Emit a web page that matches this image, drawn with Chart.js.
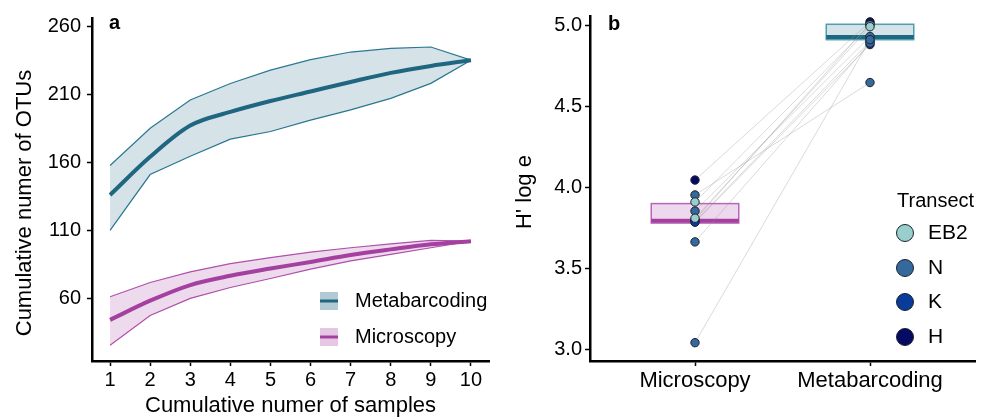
<!DOCTYPE html>
<html>
<head>
<meta charset="utf-8">
<script src="https://cdn.jsdelivr.net/npm/chart.js@4.4.0/dist/chart.umd.min.js"></script>
<style>
  body { margin: 0; background: #fff; }
  #wrap { position: relative; width: 989px; height: 417px; }
  canvas { position: absolute; top: 0; }
  #rare { left: 0; }
  #div { left: 500px; }
</style>
</head>
<body>
<div id="wrap">
  <canvas id="rare" width="500" height="417"></canvas>
  <canvas id="div" width="489" height="417"></canvas>
</div>
<script>
 // panel a - rarefaction curves
 const samples = [1, 2, 3, 4, 5, 6, 7, 8, 9, 10];
 const metaMean = [136, 164, 187, 197, 205, 212, 219, 225.7, 230.8, 235];
 const metaUpper = [157.6, 185, 205.8, 217.9, 227.7, 235.4, 241, 243.7, 244.7, 235];
 const metaLower = [110, 151, 164.4, 177, 182.6, 191, 198.5, 207, 218, 235];
 const microMean = [44.2, 58.3, 69.8, 76.6, 81.9, 86.8, 91.9, 96, 99.7, 102];
 const microUpper = [61.2, 71.7, 79.5, 85.6, 90, 94, 97.2, 100.1, 102.6, 102];
 const microLower = [25.5, 47.4, 60, 68, 74.6, 81.5, 87.5, 92.4, 97.2, 102];
 const otuTicks = [60, 110, 160, 210, 260];

 // panel b - Shannon diversity
 const methods = ['Microscopy', 'Metabarcoding'];
 const transects = ['EB2', 'N', 'K', 'H'];
 const transectColors = ['#98cfcc', '#35689b', '#0a3a9a', '#050a62'];
 const sampleTransect = ['H', 'N', 'EB2', 'N', 'EB2', 'K', 'N', 'N', 'H', 'K'];
 const microH = [4.045, 3.953, 3.91, 3.854, 3.81, 3.79, 3.664, 3.043, 3.80, 3.785];
 const metaH = [5.02, 4.646, 5.00, 4.93, 4.99, 4.90, 4.89, 4.91, 5.01, 4.88];
 const boxQ1 = [3.78, 4.91];
 const boxMedian = [3.795, 4.927];
 const boxQ3 = [3.90, 5.005];
 const hTicks = [3.0, 3.5, 4.0, 4.5, 5.0];

 const FONT = "'Liberation Sans', Arial, sans-serif";
 Chart.defaults.font.family = FONT;
 Chart.defaults.color = '#000';

 const META = '#1f6680';
 const MICRO = '#a4409f';

 function fixTicks(values) {
  return scale => { scale.ticks = values.map(v => ({ value: v })); };
 }

 function xy(ys) {
  return samples.map((s, i) => ({ x: s, y: ys[i] }));
 }

 function axisGrid() {
  return { drawOnChartArea: false, drawTicks: true, tickLength: 5, tickWidth: 1.5, tickColor: '#000' };
 }

 // text drawn on top of a chart: panel letter, rotated y title, legend
 function overlay(draw) {
  return { id: 'overlay' + Math.random(), afterDraw: chart => { const ctx = chart.ctx; ctx.save(); draw(ctx, chart); ctx.restore(); } };
 }

 function yTitle(ctx, text, x, y) {
  ctx.translate(x, y);
  ctx.rotate(-Math.PI / 2);
  ctx.font = '22px ' + FONT;
  ctx.fillStyle = '#000';
  ctx.textAlign = 'center';
  ctx.textBaseline = 'middle';
  ctx.fillText(text, 0, 0);
  ctx.setTransform(1, 0, 0, 1, 0, 0);
 }

 function panelLetter(ctx, letter, x, y) {
  ctx.font = 'bold 20px ' + FONT;
  ctx.fillStyle = '#000';
  ctx.textAlign = 'left';
  ctx.textBaseline = 'middle';
  ctx.fillText(letter, x, y);
 }

 // Panel a
 new Chart(document.getElementById('rare'), {
  type: 'line',
  data: {
  datasets: [
  { data: xy(metaMean), borderColor: META, borderWidth: 4, cubicInterpolationMode: 'monotone', fill: false, order: 0 },
  { data: xy(metaUpper), borderColor: '#2a7892', borderWidth: 1.2, fill: '+1', backgroundColor: 'rgba(31,102,128,0.19)', order: 1 },
  { data: xy(metaLower), borderColor: '#2a7892', borderWidth: 1.2, fill: false, order: 1 },
  { data: xy(microMean), borderColor: MICRO, borderWidth: 4, cubicInterpolationMode: 'monotone', fill: false, order: 0 },
  { data: xy(microUpper), borderColor: '#b050ab', borderWidth: 1.2, fill: '+1', backgroundColor: 'rgba(170,70,165,0.2)', order: 1 },
  { data: xy(microLower), borderColor: '#b050ab', borderWidth: 1.2, fill: false, order: 1 }
  ]
  },
  options: {
  responsive: false,
  animation: false,
  devicePixelRatio: 1,
  layout: { padding: { top: 16, right: 11, left: 0, bottom: 0 } },
  elements: { point: { radius: 0 } },
  plugins: { legend: { display: false }, tooltip: { enabled: false } },
  scales: {
  x: {
  type: 'linear', min: 0.55, max: 10.45,
  afterBuildTicks: fixTicks(samples),
  afterFit: s => { s.height = 56; },
  grid: axisGrid(),
  border: { color: '#000', width: 2.5 },
  ticks: { font: { size: 20 }, padding: 2, color: '#000', maxRotation: 0, autoSkip: false },
  title: { display: true, text: 'Cumulative numer of samples', font: { size: 22, lineHeight: 1 }, padding: { top: 0, bottom: 0 } }
  },
  y: {
  type: 'linear', min: 14, max: 266,
  afterBuildTicks: fixTicks(otuTicks),
  afterFit: s => { s.width = 92; },
  grid: axisGrid(),
  border: { color: '#000', width: 2.5 },
  ticks: { font: { size: 20 }, padding: 6, color: '#000' }
  }
  }
  },
  plugins: [overlay((ctx, chart) => {
  yTitle(ctx, 'Cumulative numer of OTUs', 25, 203);
  panelLetter(ctx, 'a', 109, 23);
  const rows = [
  { label: 'Metabarcoding', fill: 'rgba(31,102,128,0.35)', line: META, y: 301 },
  { label: 'Microscopy', fill: 'rgba(170,70,165,0.3)', line: MICRO, y: 337 }
  ];
  rows.forEach(r => {
  ctx.fillStyle = r.fill;
  ctx.fillRect(320, r.y - 9, 18, 18);
  ctx.strokeStyle = r.line;
  ctx.lineWidth = 3;
  ctx.beginPath();
  ctx.moveTo(320, r.y);
  ctx.lineTo(338, r.y);
  ctx.stroke();
  ctx.fillStyle = '#000';
  ctx.font = '20px ' + FONT;
  ctx.textAlign = 'left';
  ctx.textBaseline = 'middle';
  ctx.fillText(r.label, 355, r.y);
  });
  })]
 });

 // Panel b
 const pairLines = microH.map((m, i) => ({
  type: 'line',
  data: [{ x: 1, y: m }, { x: 2, y: metaH[i] }],
  borderColor: 'rgba(150,150,150,0.45)',
  borderWidth: 0.8,
  pointRadius: 0,
  order: 2
 }));

 const transectPoints = transects.map((t, k) => {
  const pts = [];
  sampleTransect.forEach((st, i) => {
  if (st === t) {
  pts.push({ x: 1, y: microH[i] });
  pts.push({ x: 2, y: metaH[i] });
  }
  });
  return {
  type: 'scatter',
  data: pts,
  pointRadius: 4.2,
  pointBackgroundColor: transectColors[k],
  pointBorderColor: '#1a2230',
  pointBorderWidth: 1,
  order: 0
  };
 });

 const boxPlugin = {
  id: 'boxes',
  beforeDatasetsDraw(chart) {
  const { ctx, scales: { x, y } } = chart;
  const fills = ['#eed8ee', '#d3e3e7'];
  const edges = ['#b866b8', '#4f9db0'];
  const medians = [MICRO, META];
  ctx.save();
  methods.forEach((m, i) => {
  const left = x.getPixelForValue(i + 1 - 0.25);
  const right = x.getPixelForValue(i + 1 + 0.25);
  const top = y.getPixelForValue(boxQ3[i]);
  const bot = y.getPixelForValue(boxQ1[i]);
  ctx.fillStyle = fills[i];
  ctx.fillRect(left, top, right - left, bot - top);
  ctx.strokeStyle = edges[i];
  ctx.lineWidth = 1.5;
  ctx.strokeRect(left, top, right - left, bot - top);
  const med = y.getPixelForValue(boxMedian[i]);
  ctx.strokeStyle = medians[i];
  ctx.lineWidth = 4;
  ctx.beginPath();
  ctx.moveTo(left, med);
  ctx.lineTo(right, med);
  ctx.stroke();
  });
  ctx.restore();
  }
 };

 new Chart(document.getElementById('div'), {
  type: 'scatter',
  data: { datasets: [...transectPoints, ...pairLines] },
  options: {
  responsive: false,
  animation: false,
  devicePixelRatio: 1,
  layout: { padding: { top: 16, right: 14, left: 0, bottom: 0 } },
  plugins: { legend: { display: false }, tooltip: { enabled: false } },
  scales: {
  x: {
  type: 'linear', min: 0.4, max: 2.6,
  afterBuildTicks: fixTicks([1, 2]),
  afterFit: s => { s.height = 56; },
  grid: axisGrid(),
  border: { color: '#000', width: 2.5 },
  ticks: { font: { size: 22 }, padding: 2, color: '#000', maxRotation: 0, autoSkip: false, callback: v => methods[v - 1] }
  },
  y: {
  type: 'linear', min: 2.93, max: 5.056,
  afterBuildTicks: fixTicks(hTicks),
  afterFit: s => { s.width = 90; },
  grid: axisGrid(),
  border: { color: '#000', width: 2.5 },
  ticks: { font: { size: 20 }, padding: 3, color: '#000', callback: v => v.toFixed(1) }
  }
  }
  },
  plugins: [boxPlugin, overlay(ctx => {
  yTitle(ctx, "H' log e", 25, 192);
  panelLetter(ctx, 'b', 108, 24);
  ctx.fillStyle = '#000';
  ctx.font = '20px ' + FONT;
  ctx.textAlign = 'left';
  ctx.textBaseline = 'middle';
  ctx.fillText('Transect', 397, 201);
  const rowsY = [233, 268, 302, 337];
  transects.forEach((t, k) => {
  ctx.beginPath();
  ctx.arc(405, rowsY[k], 8.5, 0, Math.PI * 2);
  ctx.fillStyle = transectColors[k];
  ctx.fill();
  ctx.lineWidth = 1;
  ctx.strokeStyle = '#1a2230';
  ctx.stroke();
  ctx.fillStyle = '#000';
  ctx.font = '21px ' + FONT;
  ctx.fillText(t, 428, rowsY[k]);
  });
  })]
 });
</script>
</body>
</html>
